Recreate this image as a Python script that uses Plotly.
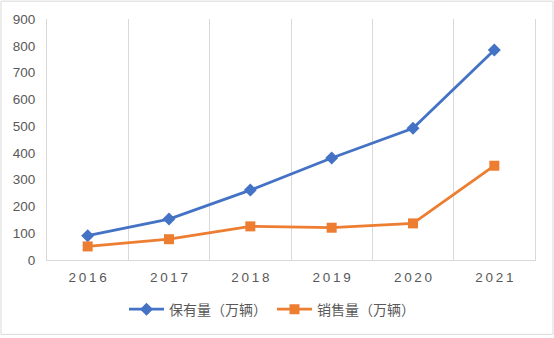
import plotly.graph_objects as go

years = ["2016", "2017", "2018", "2019", "2020", "2021"]
stock = [91, 153, 261, 381, 492, 784]          # 保有量（万辆）
sales = [50.7, 77.7, 125.6, 120.6, 136.7, 352.1]  # 销售量（万辆）
y_ticks = [0, 100, 200, 300, 400, 500, 600, 700, 800, 900]

W, H = 554, 338
L, R, T, B = 47, 19, 19, 76
pw, ph = W - L - R, H - T - B

def px_to_paper_x(px):
    return (px - L) / pw

def px_to_paper_y(py):
    return (H - B - py) / ph

label_font = dict(family="Liberation Sans, Arial, sans-serif", size=13.5, color="#595959")
grid = "#d9d9d9"

fig = go.Figure()
fig.add_trace(go.Scatter(
    x=years, y=stock, name="保有量（万辆）", mode="lines+markers",
    line=dict(color="#4472C4", width=2.8),
    marker=dict(symbol="diamond", size=10, color="#4472C4"),
))
fig.add_trace(go.Scatter(
    x=years, y=sales, name="销售量（万辆）", mode="lines+markers",
    line=dict(color="#ED7D31", width=2.8),
    marker=dict(symbol="square", size=10, color="#ED7D31"),
))

fig.update_layout(
    width=W, height=H,
    margin=dict(l=L, r=R, t=T, b=B),
    paper_bgcolor="white", plot_bgcolor="white",
    showlegend=True,
    legend=dict(
        orientation="h", x=px_to_paper_x(272), xanchor="center",
        y=px_to_paper_y(312), yanchor="middle",
        font=dict(family="Noto Sans CJK SC, sans-serif", size=14, color="#595959"),
        itemwidth=35, bgcolor="rgba(0,0,0,0)",
    ),
    xaxis=dict(
        type="category", tickson="boundaries", range=[-0.5, 5.5],
        tickmode="array", tickvals=years,
        ticktext=["\u2009".join(y) for y in years],
        showgrid=True, gridcolor=grid, gridwidth=1,
        showline=True, linecolor=grid, linewidth=1,
        ticks="", tickfont=label_font, ticklabelstandoff=5,
        zeroline=False,
    ),
    yaxis=dict(
        range=[0, 900], tickmode="array", tickvals=y_ticks,
        showgrid=False, zeroline=False,
        showline=True, mirror=True, linecolor=grid, linewidth=1,
        ticks="", tickfont=label_font, ticklabelstandoff=8,
    ),
    shapes=[dict(
        type="rect", xref="paper", yref="paper",
        x0=px_to_paper_x(1), x1=px_to_paper_x(553),
        y0=px_to_paper_y(337), y1=px_to_paper_y(1),
        line=dict(color=grid, width=1), fillcolor="rgba(0,0,0,0)", layer="below",
    )],
)

fig.write_html("out.html")
